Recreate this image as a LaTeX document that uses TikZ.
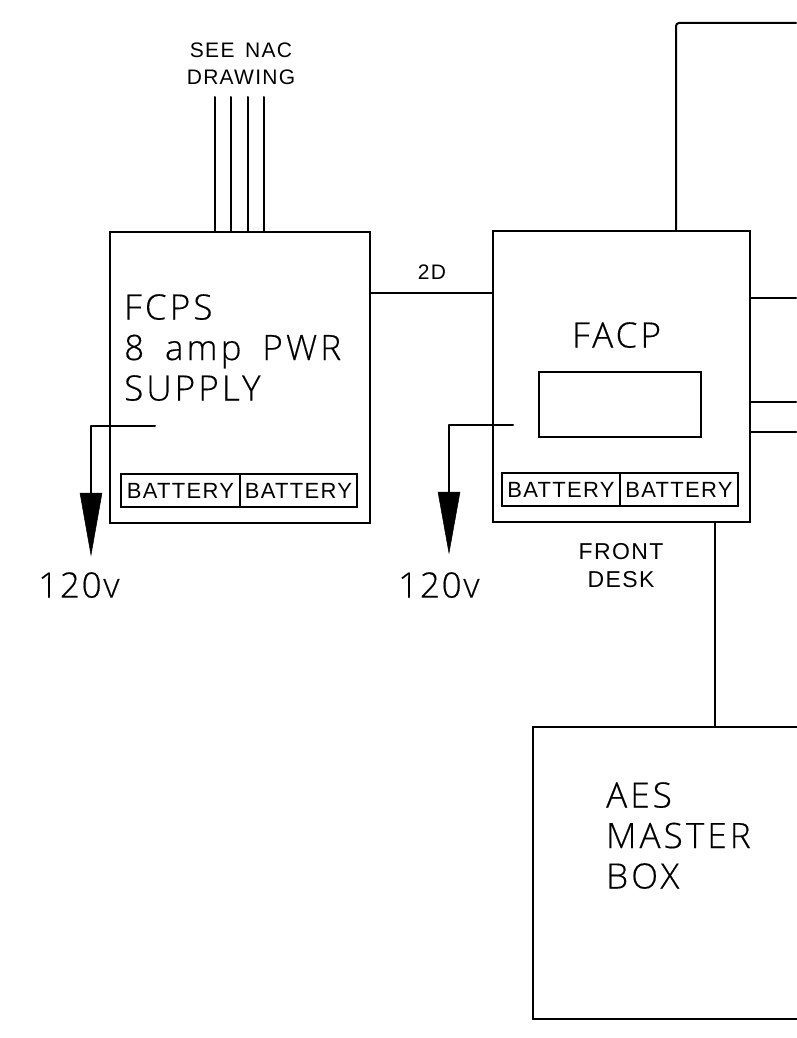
\documentclass[tikz,border=0pt]{standalone}
\usepackage{fontspec}
\setmainfont{Liberation Sans}
\newfontfamily\cad[UprightFont=* Light,LetterSpace=9,WordSpace=1.7,FakeBold=0.4]{Open Sans}
\newfontfamily\cadnum[UprightFont=* Light,LetterSpace=5,FakeBold=0.4]{Open Sans}
\newfontfamily\cadsmall[LetterSpace=6,WordSpace=1.5]{Liberation Sans}
\tikzset{
 x=1pt,y=-1pt,
 wire/.style={line width=2pt,line cap=round,line join=round},
 box/.style={draw,line width=2pt,inner sep=0pt},
 lbl/.style={inner sep=0pt,align=left,anchor=north west,font=\cad\fontsize{35}{40.5}\selectfont},
 volt/.style={inner sep=0pt,anchor=north west,font=\cadnum\fontsize{35}{40.5}\selectfont},
 small/.style={inner sep=0pt,align=center,font=\cadsmall\fontsize{#1}{27.5}\selectfont},
 batt/.style={box,minimum height=33pt,font=\cadsmall\fontsize{22}{22}\selectfont},
 tip/.style={fill=black,draw=black,line width=0.5pt},
}
\begin{document}
\begin{tikzpicture}
\useasboundingbox (0,0) rectangle (796,1038);
\fill[white] (0,0) rectangle (796,1038);
% boxes
\node[box,minimum width=260pt,minimum height=291pt] (fcps) at (240,377.5) {};
\node[box,minimum width=257pt,minimum height=291pt] (facp) at (621.5,376.5) {};
\node[box,minimum width=162pt,minimum height=65pt] (disp) at (620,404.5) {};
\node[box,minimum width=294pt,minimum height=292pt] (aes) at (680,873) {};
% battery
\node[batt,minimum width=119pt] (b1) at (180.5,490.5) {BATTERY};
\node[batt,minimum width=117pt] (b2) at (298.5,490.5) {BATTERY};
\node[batt,minimum width=118pt] (b3) at (561,489.5) {BATTERY};
\node[batt,minimum width=118pt] (b4) at (679,489.5) {BATTERY};
% NAC wires
\node[small=21] (nac) at (241,64) {SEE NAC\\DRAWING};
\foreach \x/\n in {215/a,231/b,248/c,264/d}{
 \coordinate (top\n) at (\x,97);
 \draw[wire] (top\n) -- (top\n |- fcps.north);
}
% connectors
\draw[wire] (fcps.east |- 0,293) -- (facp.west |- 0,293);
\node[small=21] (l2d) at (432,272) {2D};
\coordinate (r0) at (796,23);
\coordinate (r1) at (796,298);
\coordinate (r2) at (796,402);
\coordinate (r3) at (796,432);
\draw[wire,rounded corners=3pt] (facp.north -| 676,0) -- (676,23) -- (r0);
\draw[wire] (facp.east |- r1) -- (r1);
\draw[wire] (facp.east |- r2) -- (r2);
\draw[wire] (facp.east |- r3) -- (r3);
\draw[wire] (facp.south -| 715,0) -- (aes.north -| 715,0);
\node[small=23] (fd) at (621,565.5) {FRONT\\DESK};
% power
\coordinate (p1) at (155,426);
\coordinate (p2) at (513,425);
\draw[wire] (p1) -- (91,426) -- (91,500);
\fill[tip] (80,493) -- (102,493) -- (91,555) -- cycle;
\draw[wire] (p2) -- (449,425) -- (449,498);
\fill[tip] (438,492) -- (460,492) -- (449,553) -- cycle;
\node[volt] (v1) at (38,572) {120v};
\node[volt] (v2) at (398,572) {120v};
% text
\node[lbl] (t1) at (124,294) {FCPS\\8 amp PWR\\SUPPLY};
\node[lbl] (t2) at (572,322) {FACP};
\node[lbl] (t3) at (606,782) {AES\\MASTER\\BOX};
\end{tikzpicture}
\end{document}
